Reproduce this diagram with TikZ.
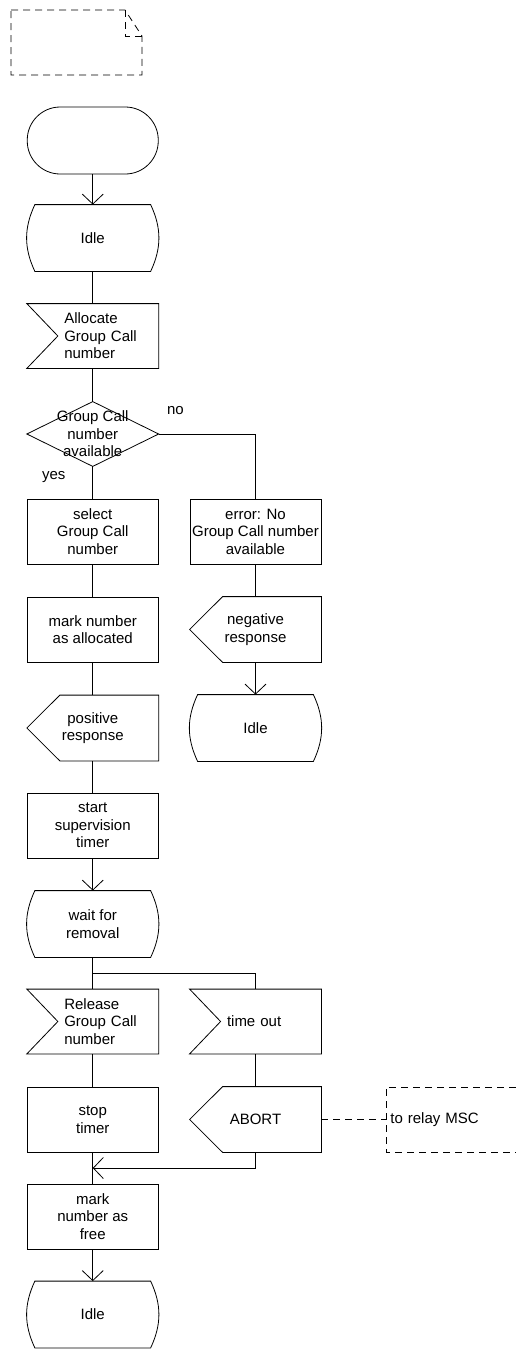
\documentclass[tikz,border=0pt]{standalone}
\usepackage{fontspec}
\setmainfont{Liberation Sans}
\usetikzlibrary{arrows.meta}

\begin{document}
\begin{tikzpicture}[x=1pt,y=-1pt,>={Straight Barb[length=10pt,width=21pt]},
                    line width=0.8pt,font=\fontsize{15}{17.5}\selectfont]
  \tikzstyle{every node}=[align=center,inner sep=1pt]
  \tikzstyle{task}=[draw,minimum width=131pt,minimum height=65pt]
  \tikzstyle{sdlstate}=[minimum width=131pt,minimum height=66pt]
  \tikzstyle{sdlin}=[minimum width=100pt,minimum height=64pt,text width=88pt,
                     inner xsep=0pt,align=left]
  \tikzstyle{sdlout}=[minimum width=131pt,minimum height=65pt]
  \tikzstyle{note}=[dashed,dash pattern=on 7pt off 5pt]

  \useasboundingbox (0,0) rectangle (515,1349);

  % text extension at the top
  \draw[note] (11,10) -- (125,10) -- (142,36) -- (142,75) -- (11,75) -- cycle;
  \draw[note] (125,10) -- (125,36) -- (142,36);

  \node[draw,rounded corners=33pt,minimum width=131pt,minimum height=67pt]
        (start) at (92.75,140.5) {};
  \node[sdlstate] (idleA)     at (92.75,238)    {Idle};
  \node[sdlin]    (alloc)     at (108.25,336)   {Allocate\\Group Call\\number};
  \node[sdlstate,minimum height=64pt]
                  (dec)       at (92.75,434)    {Group Call\\number\\available};
  \node[task]     (select)    at (92.75,531.5)  {select\\Group Call\\number};
  \node[task]     (error)     at (255.5,531.5)  {error: No\\Group Call number\\available};
  \node[task]     (markalloc) at (92.75,629.5)  {mark number\\as allocated};
  \node[sdlout]   (negresp)   at (255.5,629.5)  {negative\\response};
  \node[sdlout]   (posresp)   at (92.75,728)    {positive\\response};
  \node[sdlstate] (idleB)     at (255.5,728)    {Idle};
  \node[task]     (startsup)  at (92.75,825.5)  {start\\supervision\\timer};
  \node[sdlstate] (wait)      at (92.75,924)    {wait for\\removal};
  \node[sdlin]    (release)   at (108.25,1021.5){Release\\Group Call\\number};
  \node[sdlin]    (timeout)   at (271,1021.5)   {time out};
  \node[task]     (stop)      at (92.75,1119.5) {stop\\timer};
  \node[sdlout]   (abort)     at (255.5,1119.5) {ABORT};
  \node[minimum height=64pt,text width=121pt,inner xsep=4pt,align=left,anchor=west]
                  (relay)     at (386,1119.5)   {to relay MSC};
  \node[task]     (free)      at (92.75,1216.5) {mark\\number as\\free};
  \node[sdlstate] (idleC)     at (92.75,1314.5) {Idle};

  \coordinate (fork) at (92.75,973);
  \coordinate (join) at (92.75,1168);

  % symbol outlines
  \foreach \n in {idleA,idleB,wait,idleC}
    \draw ([xshift=8pt]\n.north west) -- ([xshift=-8pt]\n.north east)
          to[out=-65,in=65] ([xshift=-8pt]\n.south east)
          -- ([xshift=8pt]\n.south west)
          to[out=115,in=-115] ([xshift=8pt]\n.north west) -- cycle;
  \foreach \n in {alloc,release,timeout}
    \draw ([xshift=-31pt]\n.north west) -- (\n.north east) -- (\n.south east)
          -- ([xshift=-31pt]\n.south west) -- (\n.west) -- cycle;
  \foreach \n in {negresp,posresp,abort}
    \draw (\n.west) -- ([xshift=33pt]\n.north west) -- (\n.north east)
          -- (\n.south east) -- ([xshift=33pt]\n.south west) -- cycle;
  \draw (dec.north) -- (dec.east) -- (dec.south) -- (dec.west) -- cycle;
  \draw[note] (relay.north east) -- (relay.north west) -- (relay.south west)
              -- (relay.south east);

  % connectors
  \draw[->] (start) -- (idleA);
  \draw (idleA) -- (alloc.north -| idleA);
  \draw (alloc.south -| dec) -- (dec);
  \draw (dec) -- node[pos=0.33,left=26pt] {yes} (select);
  \draw (dec.east) -- node[pos=0,anchor=west,xshift=7pt,yshift=23pt] {no}
        (dec.east -| error) -- (error);
  \draw (select) -- (markalloc);
  \draw (markalloc) -- (posresp);
  \draw (posresp) -- (startsup);
  \draw[->] (startsup) -- (wait);
  \draw (error) -- (negresp);
  \draw[->] (negresp) -- (idleB);
  \draw (wait) -- (release.north -| wait);
  \draw (fork) -| (timeout.north -| abort);
  \draw (release.south -| stop) -- (stop);
  \draw (timeout.south -| abort) -- (abort);
  \draw[->] (abort) |- (join);
  \draw (stop) -- (free);
  \draw[->] (free) -- (idleC);
  \draw[note] (abort) -- (relay);
\end{tikzpicture}
\end{document}
